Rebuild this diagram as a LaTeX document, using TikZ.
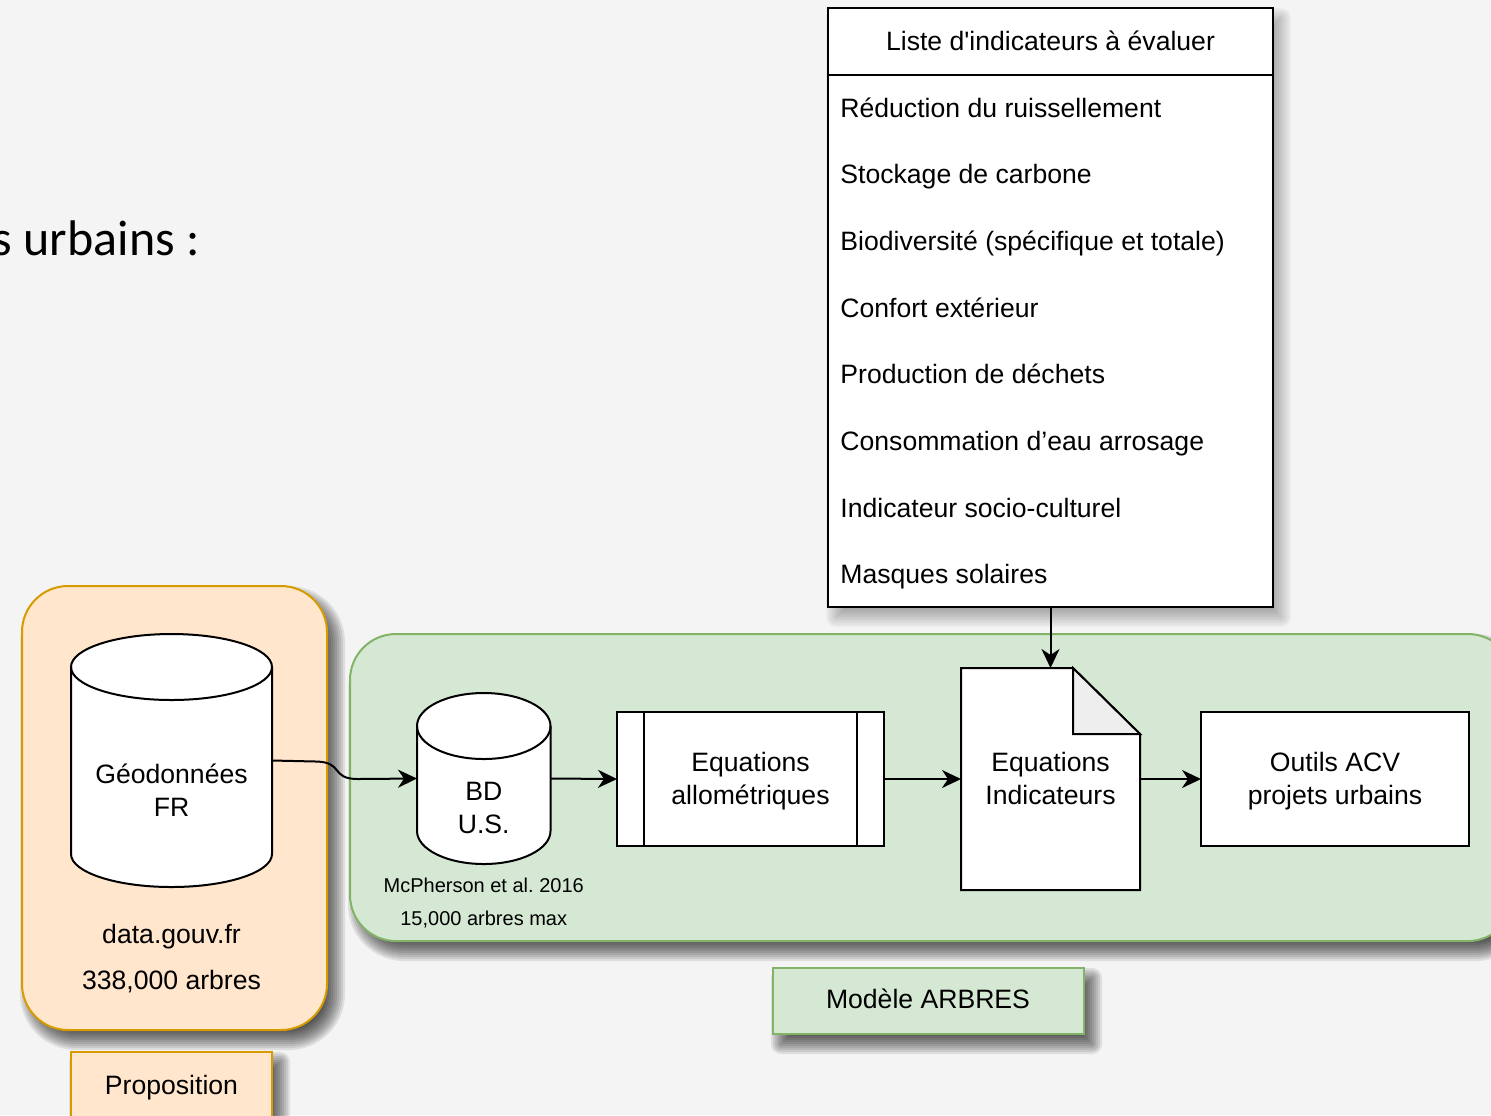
\documentclass[tikz,border=0pt]{standalone}
\usepackage{fontspec}
\setmainfont{Liberation Sans}[Ligatures=TeXOff]
\newfontfamily\calibfont{Carlito}
\usetikzlibrary{arrows.meta}
\definecolor{bgc}{HTML}{F4F4F4}
\definecolor{orfill}{HTML}{FFE6CC}
\definecolor{ordraw}{HTML}{D79B00}
\definecolor{grfill}{HTML}{D5E8D4}
\definecolor{grdraw}{HTML}{82B366}
\definecolor{foldc}{HTML}{EEEEEE}
\frenchspacing
% soft drop shadow: x1 y1 x2 y2 radius(px) opacity-per-layer
\newcommand\mshadow[6]{%
  \foreach \e in {-10,-8,...,10}{%
    \pgfmathsetmacro\rc{max(#5+\e,0)*0.5}%
    \fill[black,opacity=#6,rounded corners=\rc pt] ({#1-\e+8},{#2-\e+10}) rectangle ({#3+\e+8},{#4+\e+10});
  }%
}
\begin{document}
\begin{tikzpicture}[x=0.5pt,y=-0.5pt,
  orbox/.style={draw=ordraw,fill=orfill,line width=1pt},
  grbox/.style={draw=grdraw,fill=grfill,line width=1pt},
  wbox/.style={draw=black,fill=white,line width=1pt},
  area/.style={inner sep=0pt,outer sep=0pt},
  lbl/.style={inner sep=0pt,anchor=base,font=\fontsize{13.3}{16}\selectfont},
  item/.style={inner sep=0pt,anchor=base west,font=\fontsize{13.3}{16}\selectfont},
  small/.style={inner sep=0pt,anchor=base,font=\fontsize{10}{12}\selectfont},
  arr/.style={line width=1pt,-{Stealth[length=9.5pt,width=9pt,inset=3pt]}}
]
\clip (0,0) rectangle (1491,1115);
\fill[bgc] (0,0) rectangle (1491,1115);

% slide title fragment
\node[inner sep=0pt,anchor=base east,font=\calibfont\fontsize{25}{30}\selectfont] (title) at (200,255) {s urbains :};

% shadows
\mshadow{22}{586}{327}{1030}{46}{0.085}
\mshadow{350}{634}{1514}{941}{46}{0.085}
\mshadow{71}{1052}{272}{1142}{0}{0.085}
\mshadow{773}{968}{1084}{1034}{0}{0.085}
\mshadow{828}{8}{1273}{607}{0}{0.035}

% containers
\node[orbox,area,rounded corners=23pt,minimum width=152.5pt,minimum height=222pt] (prop) at (174.5,808) {};
\node[grbox,area,rounded corners=23pt,minimum width=582pt,minimum height=153.5pt] (arbres) at (932,787.5) {};

\node[orbox,area,minimum width=100.5pt,minimum height=45pt] (propbox) at (171.5,1097) {};
\node[lbl] (proptxt) at (171.5,1094) {Proposition};
\node[grbox,area,minimum width=155.5pt,minimum height=33pt] (modele) at (928,1001) {};
\node[lbl] (modtxt) at (928,1008) {Modèle ARBRES};

% indicator list
\node[wbox,area,minimum width=222.5pt,minimum height=299.5pt] (list) at (1050.5,307.5) {};
\coordinate (hl) at (0,74.5);
\draw[line width=1pt] (list.west |- hl) -- (list.east |- hl);
\node[lbl] (hdr) at (1050.5,50) {Liste d'indicateurs à évaluer};
\node[item] (i1) at (840,117) {Réduction du ruissellement};
\node[item] (i2) at (840,183.7) {Stockage de carbone};
\node[item] (i3) at (840,250.3) {Biodiversité (spécifique et totale)};
\node[item] (i4) at (840,317) {Confort extérieur};
\node[item] (i5) at (840,383.7) {Production de déchets};
\node[item] (i6) at (840,450.3) {Consommation d’eau arrosage};
\node[item] (i7) at (840,517) {Indicateur socio-culturel};
\node[item] (i8) at (840,583.7) {Masques solaires};

% Geodonnees cylinder
\node[area,minimum width=100.5pt,minimum height=126.5pt] (geo) at (171.5,760.5) {};
\draw[wbox] (71,667) -- (71,854) .. controls (71,872.2) and (116,887) .. (171.5,887) .. controls (227,887) and (272,872.2) .. (272,854) -- (272,667) .. controls (272,648.8) and (227,634) .. (171.5,634) .. controls (116,634) and (71,648.8) .. (71,667) -- cycle;
\draw[line width=1pt] (71,667) .. controls (71,685.2) and (116,700) .. (171.5,700) .. controls (227,700) and (272,685.2) .. (272,667);
\node[lbl] (geot1) at (171.5,783) {Géodonnées};
\node[lbl] (geot2) at (171.5,816) {FR};
\node[lbl] (geot3) at (171.5,943) {data.gouv.fr};
\node[lbl] (geot4) at (171.5,989.5) {338,000 arbres};

% BD cylinder
\node[area,minimum width=66.75pt,minimum height=85.5pt] (bd) at (483.75,778.5) {};
\draw[wbox] (417,726) -- (417,831) .. controls (417,849.2) and (446.9,864) .. (483.75,864) .. controls (520.6,864) and (550.5,849.2) .. (550.5,831) -- (550.5,726) .. controls (550.5,707.8) and (520.6,693) .. (483.75,693) .. controls (446.9,693) and (417,707.8) .. (417,726) -- cycle;
\draw[line width=1pt] (417,726) .. controls (417,744.2) and (446.9,759) .. (483.75,759) .. controls (520.6,759) and (550.5,744.2) .. (550.5,726);
\node[lbl] (bdt1) at (483.75,800.5) {BD};
\node[lbl] (bdt2) at (483.75,833.5) {U.S.};
\node[small] (bdt3) at (483.75,892) {McPherson et al. 2016};
\node[small] (bdt4) at (483.75,925) {15,000 arbres max};

% Equations allometriques (process)
\node[wbox,area,minimum width=133.5pt,minimum height=67pt] (allo) at (750.5,779) {};
\draw[line width=1pt] ([xshift=13.5pt]allo.north west) -- ([xshift=13.5pt]allo.south west);
\draw[line width=1pt] ([xshift=-13.5pt]allo.north east) -- ([xshift=-13.5pt]allo.south east);
\node[lbl] (allot1) at (750.5,771.5) {Equations};
\node[lbl] (allot2) at (750.5,804.5) {allométriques};

% Equations Indicateurs (document)
\node[area,minimum width=89.5pt,minimum height=111pt] (doc) at (1050.5,779) {};
\draw[wbox] (961,668) -- (1073,668) -- (1140,734) -- (1140,890) -- (961,890) -- cycle;
\draw[line width=1pt,fill=foldc] (1073,668) -- (1073,734) -- (1140,734) -- cycle;
\node[lbl] (doct1) at (1050.5,771.5) {Equations};
\node[lbl] (doct2) at (1050.5,804.5) {Indicateurs};

% Outils ACV
\node[wbox,area,minimum width=134pt,minimum height=67pt] (outils) at (1335,779) {};
\node[lbl] (outt1) at (1335,771.5) {Outils ACV};
\node[lbl] (outt2) at (1335,804.5) {projets urbains};

% connectors
\draw[arr] (geo.east) -- (316,761.5) .. controls (344,762) and (330,779) .. (358,779) -- (bd.west);
\draw[arr] (bd.east) -- (allo.west);
\draw[arr] (allo.east) -- (doc.west);
\draw[arr] (doc.east) -- (outils.west);
\draw[arr] (list.south) -- (doc.north);
\end{tikzpicture}
\end{document}
